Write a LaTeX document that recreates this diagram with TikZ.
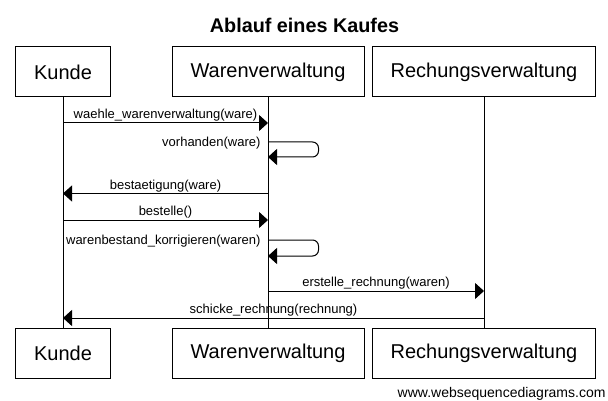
\documentclass[tikz,border=0pt]{standalone}
\usepackage{fontspec}
\setmainfont{Liberation Sans}
\usetikzlibrary{
    arrows.meta,
    positioning
}
\tikzset{
    every picture/.style = {
        > = {Triangle[length=9pt, width=16pt]},
        line width = 1pt
    },
    actor/.style = {
        draw,
        minimum height = 50pt,
        inner sep = 0pt,
        font = \fontsize{20}{24}\selectfont
    },
    msg/.style = {
        inner sep = 1pt,
        font = \fontsize{13}{15}\selectfont
    }
}

\begin{document}
\begin{tikzpicture}[
                        x = 1pt,
                        y = -1pt
                    ]
    \useasboundingbox (0,0) rectangle (608,401);
    \node[font = \bfseries\fontsize{19.8}{24}\selectfont] (title) at (304.5,25) {Ablauf eines Kaufes};

    % participants, top
    \node[actor, minimum width = 95pt]  (kt) at (63,72)  {Kunde};
    \node[actor, minimum width = 192pt] (wt) at (268,72) {Warenverwaltung};
    \node[actor, minimum width = 223pt] (rt) at (484,72) {Rechungsverwaltung};
    % participants, bottom
    \node[actor, minimum width = 95pt]  (kb) at (63,353)  {Kunde};
    \node[actor, minimum width = 192pt] (wb) at (268,353) {Warenverwaltung};
    \node[actor, minimum width = 223pt] (rb) at (484,353) {Rechungsverwaltung};

    % lifelines
    \foreach \p in {k, w, r}
        \draw (\p t) -- (\p b);

    % messages
    \coordinate (k1) at (kt |- 0,123);
    \coordinate (w1) at (wt |- 0,123);
    \draw[->] (k1) -- node[msg, above] {waehle\_warenverwaltung(ware)} (w1);

    \coordinate (w2) at (wt |- 0,142);
    \coordinate (w3) at (wt |- 0,157);
    \draw[->, rounded corners = 6pt] (w2) -- ++(50.5,0) |- (w3);
    \node[msg, anchor = east] (self1) at ([xshift = -6pt, yshift = -1pt]w2) {vorhanden(ware)};

    \coordinate (w4) at (wt |- 0,193.5);
    \coordinate (k4) at (kt |- 0,193.5);
    \draw[->] (w4) -- node[msg, above] {bestaetigung(ware)} (k4);

    \coordinate (k5) at (kt |- 0,220);
    \coordinate (w5) at (wt |- 0,220);
    \draw[->] (k5) -- node[msg, above] {bestelle()} (w5);

    \coordinate (w6) at (wt |- 0,240);
    \coordinate (w7) at (wt |- 0,256);
    \draw[->, rounded corners = 6pt] (w6) -- ++(50.5,0) |- (w7);
    \node[msg, anchor = east] (self2) at ([xshift = -6pt, yshift = -1pt]w6) {warenbestand\_korrigieren(waren)};

    \coordinate (w8) at (wt |- 0,291);
    \coordinate (r8) at (rt |- 0,291);
    \draw[->] (w8) -- node[msg, above] {erstelle\_rechnung(waren)} (r8);

    \coordinate (r9) at (rt |- 0,318);
    \coordinate (k9) at (kt |- 0,318);
    \draw[->] (r9) -- node[msg, above] {schicke\_rechnung(rechnung)} (k9);

    \node[anchor = east, inner sep = 0pt, font = \fontsize{14}{16}\selectfont] (www) at (606,394) {www.websequencediagrams.com};
\end{tikzpicture}
\end{document}
